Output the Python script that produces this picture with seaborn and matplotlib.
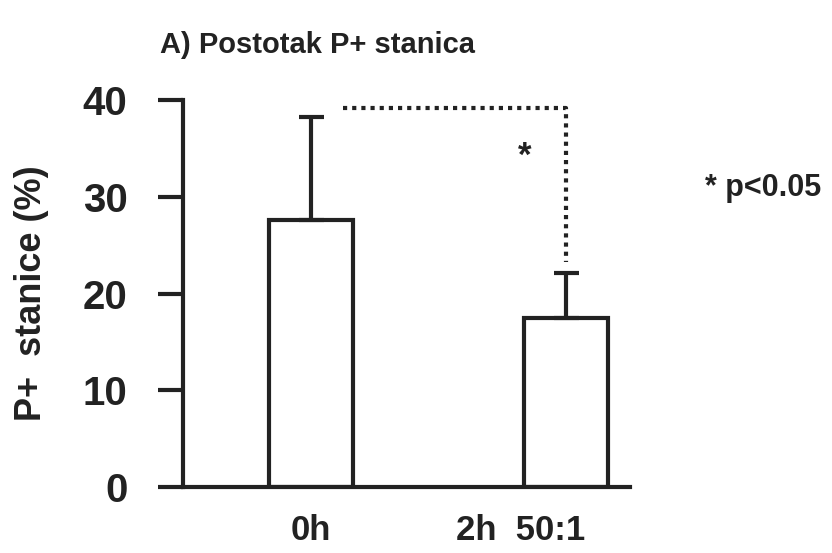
import pandas as pd
import matplotlib.pyplot as plt
import matplotlib.transforms as mtransforms
import seaborn as sns

# data
groups = ["0h", "2h  50:1"]
means = [27.6, 17.5]
sd_up = [10.7, 4.6]

sns.set_style("ticks")
plt.rcParams["font.family"] = ["Liberation Sans", "DejaVu Sans"]
plt.rcParams["font.weight"] = "bold"
plt.rcParams["axes.labelweight"] = "bold"

ink = "#222222"
df = pd.DataFrame({"group": groups, "value": means})

fig = plt.figure(figsize=(8.32, 5.53), dpi=100)
ax = fig.add_axes([0.22, 0.119, 0.537, 0.70])

sns.barplot(data=df, x="group", y="value", color="white", edgecolor=ink,
            linewidth=3, width=0.33, errorbar=None, ax=ax)
ax.errorbar(range(len(groups)), means, yerr=[[0] * len(groups), sd_up],
            fmt="none", ecolor=ink, elinewidth=3, capsize=9, capthick=3, zorder=1)

# significance bracket from the 0h error bar top across to the 2h bar
top_0 = means[0] + sd_up[0]
top_1 = means[1] + sd_up[1]
y_br = top_0 + 0.9
ax.plot([0.125, 1.0, 1.0], [y_br, y_br, top_1 + 1.2], color=ink, lw=3,
        linestyle=(0, (1, 1.2)))
ax.text(0.84, 34.2, "*", ha="center", va="center", fontsize=25, color=ink)

ax.set_ylim(0, 40)
ax.set_xlim(-0.502, 1.251)
ax.set_yticks([0, 10, 20, 30, 40])
ax.set_xlabel("")
ax.set_ylabel("P+  stanice (%)", fontsize=26, color=ink, labelpad=24)
ax.tick_params(axis="y", length=18, width=3, labelsize=29, colors=ink, pad=22)
ax.tick_params(axis="x", length=0, labelsize=25, colors=ink, pad=19)
for lab in ax.get_xticklabels() + ax.get_yticklabels():
    lab.set_fontweight("bold")
# the second category label sits left of its bar in the original
lab2 = ax.get_xticklabels()[1]
lab2.set_transform(lab2.get_transform() +
                   mtransforms.ScaledTranslation(-0.45, 0, fig.dpi_scale_trans))
sns.despine(ax=ax)
for s in ["left", "bottom"]:
    ax.spines[s].set_linewidth(3)
    ax.spines[s].set_color(ink)

fig.text(0.192, 0.919, "A) Postotak P+ stanica", fontsize=21, color=ink,
         va="center", ha="left")
fig.text(0.847, 0.66, "* p<0.05", fontsize=22, color=ink, va="center", ha="left")

fig.savefig("out.png", dpi=100)
